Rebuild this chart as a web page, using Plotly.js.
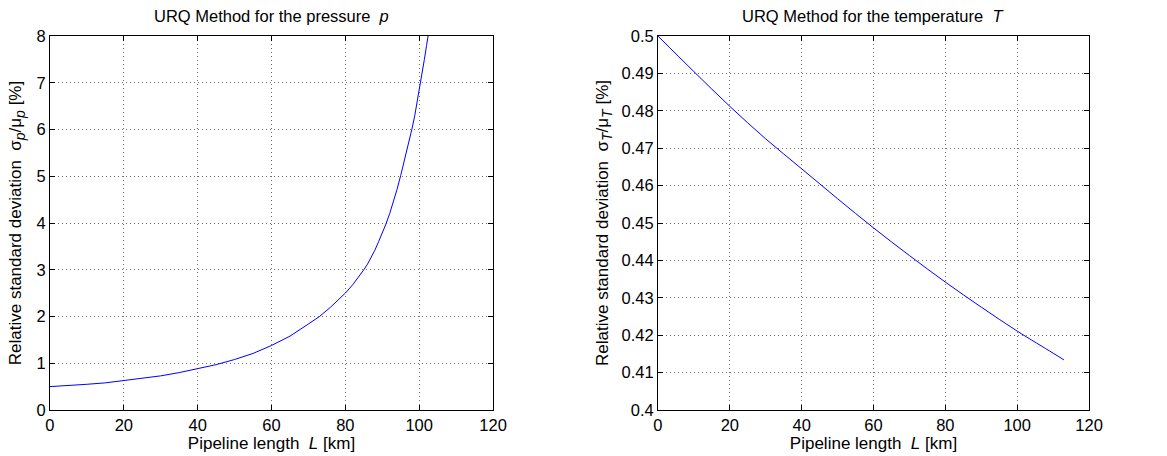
<!DOCTYPE html>
<html>
<head>
<meta charset="utf-8">
<script src="https://cdn.plot.ly/plotly-3.0.1.min.js"></script>
<style>html,body{margin:0;padding:0;background:#fff;}#chart{width:1167px;height:456px;}</style>
</head>
<body>
<div id="chart"></div>
<script>
// Pressure: relative std deviation [%] vs pipeline length [km]
const lengthP = [0, 5, 10, 15, 20, 25, 30, 35, 40, 45, 50, 55, 60, 65, 70, 73, 76, 78, 80, 82, 84, 85, 86, 87, 88, 89, 90, 91, 92, 93, 94, 95, 96, 97, 98, 98.8, 99.5, 100.2, 100.8, 101.4, 102, 102.5, 103];
const sigmaP  = [0.50, 0.52, 0.55, 0.58, 0.63, 0.67, 0.73, 0.80, 0.88, 0.97, 1.08, 1.21, 1.38, 1.58, 1.84, 2.0, 2.2, 2.34, 2.5, 2.68, 2.88, 3.0, 3.12, 3.26, 3.42, 3.6, 3.78, 3.98, 4.2, 4.45, 4.72, 5.02, 5.33, 5.65, 6.0, 6.3, 6.6, 6.9, 7.2, 7.5, 7.8, 8.05, 8.3];
// Temperature: relative std deviation [%] vs pipeline length [km]
const lengthT = [0, 10, 20, 30, 40, 50, 60, 70, 80, 90, 100, 110, 113];
const sigmaT  = [0.5, 0.4905, 0.4812, 0.4725, 0.4645, 0.4565, 0.4487, 0.4413, 0.4342, 0.4275, 0.4211, 0.4152, 0.4134];
const xTicks = [0, 20, 40, 60, 80, 100, 120];
const yTicksP = [0, 1, 2, 3, 4, 5, 6, 7, 8];
const yTicksT = [0.4, 0.41, 0.42, 0.43, 0.44, 0.45, 0.46, 0.47, 0.48, 0.49, 0.5];

const fam = 'Liberation Sans, Arial, Helvetica, sans-serif';
function f(size) { return {family: fam, color: '#000', size: size}; }
function axisBase(extra) {
  return Object.assign({
    showline: true, linecolor: '#000', linewidth: 1, mirror: 'ticks',
    ticks: 'inside', ticklen: 5, tickcolor: '#000', tickwidth: 1,
    showgrid: true, gridcolor: '#6e6e6e', griddash: '1px,3px', gridwidth: 1,
    zeroline: false, tickfont: f(16.5), fixedrange: true
  }, extra);
}
function sub(s) { return '<sub><span style="font-size:14px"><i>' + s + '</i></span></sub>'; }

const traces = [
  {x: lengthP, y: sigmaP, type: 'scatter', mode: 'lines', line: {color: '#0000ff', width: 1}, xaxis: 'x', yaxis: 'y', hoverinfo: 'skip'},
  {x: lengthT, y: sigmaT, type: 'scatter', mode: 'lines', line: {color: '#0000ff', width: 1, shape: 'spline'}, xaxis: 'x2', yaxis: 'y2', hoverinfo: 'skip'}
];

const layout = {
  width: 1167, height: 456,
  margin: {l: 0, r: 0, t: 0, b: 0},
  paper_bgcolor: '#fff', plot_bgcolor: '#fff',
  showlegend: false,
  font: f(16),
  xaxis: axisBase({domain: [0.0428, 0.4225], range: [0, 120], tickvals: xTicks, anchor: 'y',
    title: {text: 'Pipeline length  <i>L</i> [km]', font: f(17), standoff: 0}}),
  yaxis: axisBase({domain: [0.1009, 0.921], range: [0, 8], tickvals: yTicksP, anchor: 'x',
    title: {text: 'Relative standard deviation  σ' + sub('p') + '/μ' + sub('p') + ' [%]', font: f(17), standoff: 10}}),
  xaxis2: axisBase({domain: [0.5638, 0.9332], range: [0, 120], tickvals: xTicks, anchor: 'y2',
    title: {text: 'Pipeline length  <i>L</i> [km]', font: f(17), standoff: 0}}),
  yaxis2: axisBase({domain: [0.1009, 0.921], range: [0.4, 0.5], tickvals: yTicksT, anchor: 'x2',
    ticktext: yTicksT.map(v => String(v)),
    title: {text: 'Relative standard deviation  σ' + sub('T') + '/μ' + sub('T') + ' [%]', font: f(17), standoff: 8}}),
  annotations: [
    {text: 'URQ Method for the pressure  <i>p</i>', xref: 'paper', yref: 'paper', x: (0.0428 + 0.4225) / 2, y: 1 - 16 / 456, xanchor: 'center', yanchor: 'middle', showarrow: false, font: f(16.5)},
    {text: 'URQ Method for the temperature  <i>T</i>', xref: 'paper', yref: 'paper', x: (0.5638 + 0.9332) / 2, y: 1 - 16 / 456, xanchor: 'center', yanchor: 'middle', showarrow: false, font: f(16.5)}
  ]
};

Plotly.newPlot('chart', traces, layout, {staticPlot: true, displayModeBar: false});
</script>
</body>
</html>
